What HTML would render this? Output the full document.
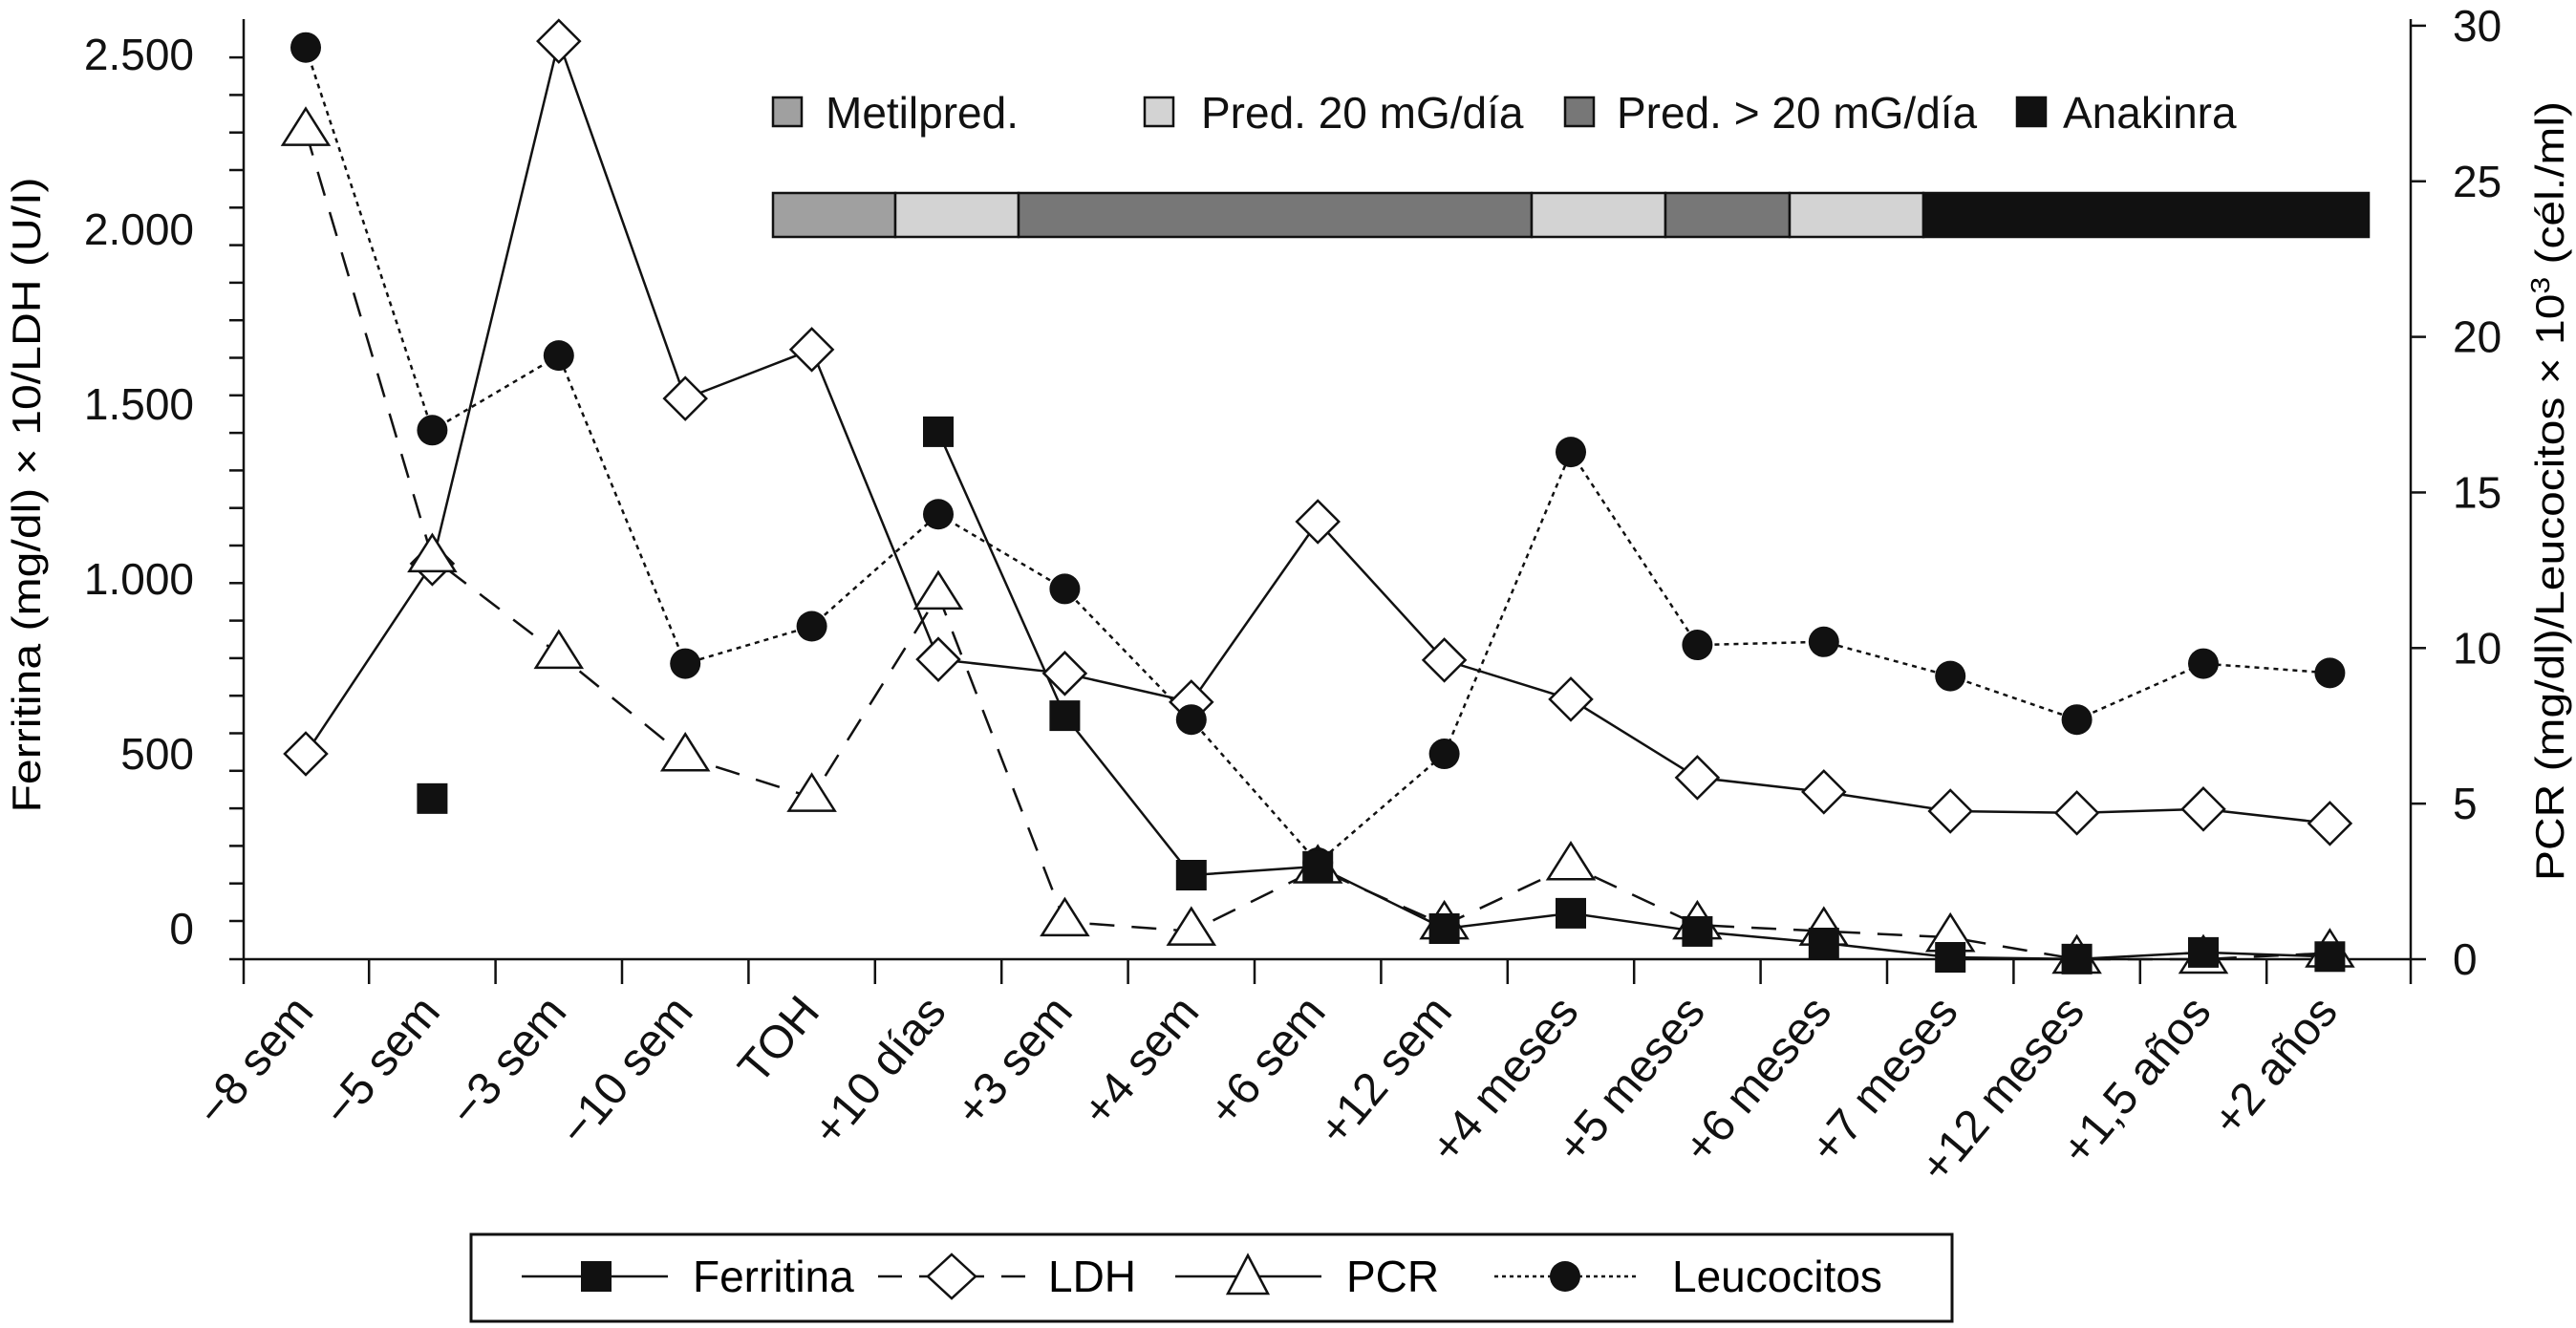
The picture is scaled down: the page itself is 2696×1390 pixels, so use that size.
<!DOCTYPE html>
<html><head><meta charset="utf-8"><style>
html,body{margin:0;padding:0;background:#fff;}
svg{display:block;font-family:"Liberation Sans",Arial,sans-serif;}
</style></head><body>
<svg id="chart" width="2696" height="1390" viewBox="0 0 2696 1390" xmlns="http://www.w3.org/2000/svg">
<g font-size="46" fill="#111">
  <rect x="809" y="102" width="30" height="30" fill="#a0a0a0" stroke="#111" stroke-width="2.5"/>
  <text x="864" y="134">Metilpred.</text>
  <rect x="1198" y="102" width="30" height="30" fill="#d3d3d3" stroke="#111" stroke-width="2.5"/>
  <text x="1257" y="134">Pred. 20 mG/día</text>
  <rect x="1638" y="102" width="30" height="30" fill="#777" stroke="#111" stroke-width="2.5"/>
  <text x="1692" y="134">Pred. &gt; 20 mG/día</text>
  <rect x="2111" y="102" width="30" height="30" fill="#111" stroke="#111" stroke-width="2.5"/>
  <text x="2159" y="134">Anakinra</text>
</g>
<g stroke="#111" stroke-width="2.5">
  <rect x="809" y="202" width="128" height="46" fill="#a0a0a0"/>
  <rect x="937" y="202" width="129" height="46" fill="#d3d3d3"/>
  <rect x="1066" y="202" width="537" height="46" fill="#777"/>
  <rect x="1603" y="202" width="140" height="46" fill="#d3d3d3"/>
  <rect x="1743" y="202" width="130" height="46" fill="#777"/>
  <rect x="1873" y="202" width="140" height="46" fill="#d3d3d3"/>
  <rect x="2013" y="202" width="466" height="46" fill="#111"/>
</g>
<g id="axes"></g>
<g id="series"></g>
<text font-size="42" text-anchor="middle" transform="translate(42,518) rotate(-90)" textLength="665" lengthAdjust="spacingAndGlyphs">Ferritina (mg/dl) × 10/LDH (U/I)</text>
<text font-size="42" text-anchor="middle" transform="translate(2683,514) rotate(-90)" textLength="816" lengthAdjust="spacingAndGlyphs">PCR (mg/dl)/Leucocitos × 10<tspan baseline-shift="super" font-size="28">3</tspan> (cél./ml)</text>
<g>
  <rect x="493" y="1292" width="1550" height="91" fill="#fff" stroke="#111" stroke-width="3"/>
  <line x1="546" y1="1336" x2="699" y2="1336" stroke="#111" stroke-width="2.5"/>
  <rect x="608" y="1320" width="32" height="32" fill="#111"/>
  <text x="725" y="1352" font-size="46">Ferritina</text>
  <line x1="919" y1="1336" x2="1077" y2="1336" stroke="#111" stroke-width="2.5" stroke-dasharray="25,18"/>
  <polygon points="996,1313 1021,1336 996,1359 971,1336" fill="#fff" stroke="#111" stroke-width="2.5"/>
  <text x="1097" y="1352" font-size="46">LDH</text>
  <line x1="1230" y1="1336" x2="1383" y2="1336" stroke="#111" stroke-width="2.5"/>
  <polygon points="1306,1314 1327,1354 1285,1354" fill="#fff" stroke="#111" stroke-width="2.5"/>
  <text x="1409" y="1352" font-size="46">PCR</text>
  <line x1="1564" y1="1336" x2="1715" y2="1336" stroke="#111" stroke-width="2.5" stroke-dasharray="4,4"/>
  <circle cx="1638" cy="1336" r="16" fill="#111"/>
  <text x="1750" y="1352" font-size="46">Leucocitos</text>
</g>
</svg>
<script>
const categories = ["\u22128 sem","\u22125 sem","\u22123 sem","\u221210 sem","TOH","+10 días","+3 sem","+4 sem","+6 sem","+12 sem","+4 meses","+5 meses","+6 meses","+7 meses","+12 meses","+1,5 años","+2 años"];
const ferritina = [null,372,null,null,null,1421,609,153,178,0,44,-8,-41,-82,-87,-68,-80];
const ldh = [500,1044,2538,1516,1656,770,730,648,1164,768,656,432,391,336,331,342,301];
const pcr = [26.6,12.9,9.8,6.5,5.2,11.7,1.2,0.9,2.9,1.1,3.0,1.1,0.9,0.7,0,0,0.2];
const leucocitos = [29.3,17.0,19.4,9.5,10.7,14.3,11.9,7.7,3.1,6.6,16.3,10.1,10.2,9.1,7.7,9.5,9.2];
const leftTicks = [0,500,1000,1500,2000,2500];
const leftTickLabels = ["0","500","1.000","1.500","2.000","2.500"];
const rightTicks = [0,5,10,15,20,25,30];

const NS="http://www.w3.org/2000/svg";
const X0=255, X1=2523, YB=1004;
function xPos(i){return 320+132.4*i;}
function yLeft(v){return 972-v*0.366;}
function yRight(v){return 1004-v*32.57;}
function mk(parent,tag,attrs,text){const e=document.createElementNS(NS,tag);for(const k in attrs)e.setAttribute(k,attrs[k]);if(text!==undefined)e.textContent=text;parent.appendChild(e);return e;}
const axes=document.getElementById('axes');
const S={stroke:"#111","stroke-width":2.5};
let e;
e=mk(axes,'line',Object.assign({x1:X0,y1:20,x2:X0,y2:YB},S));


e=mk(axes,'line',Object.assign({x1:X1,y1:20,x2:X1,y2:YB},S));


e=mk(axes,'line',Object.assign({x1:X0-15,y1:YB,x2:X1,y2:YB},S));


for(let y=964;y>=55;y-=39.3){mk(axes,'line',Object.assign({x1:X0-15,y1:y,x2:X0,y2:y},S));}
leftTicks.forEach((v,i)=>{
  const t=mk(axes,'text',{x:203,y:yLeft(v)+16,'font-size':46,'text-anchor':'end',fill:'#111'},leftTickLabels[i]);
  
  
});
rightTicks.forEach(v=>{
  mk(axes,'line',Object.assign({x1:X1,y1:yRight(v),x2:X1+16,y2:yRight(v)},S));
  const t=mk(axes,'text',{x:2567,y:yRight(v)+16,'font-size':46,fill:'#111'},String(v));
  
  
});
const xt=[X0];for(let i=0;i<categories.length-1;i++)xt.push((xPos(i)+xPos(i+1))/2);xt.push(X1);
xt.forEach(x=>mk(axes,'line',Object.assign({x1:x,y1:YB,x2:x,y2:YB+26},S)));
categories.forEach((c,i)=>{
  const x=xPos(i)+10,y=1060;
  const t=mk(axes,'text',{x:x,y:y,'font-size':48,'text-anchor':'end',fill:'#111',transform:`rotate(-50 ${x} ${y})`},c);
  
  
});
const ser=document.getElementById('series');
function drawLine(vals,yf,dash,name){
  let d='';let pen=false;
  vals.forEach((v,i)=>{if(v===null){pen=false;return;}d+=(pen?'L':'M')+xPos(i)+' '+yf(v)+' ';pen=true;});
  const p=mk(ser,'path',{d:d,fill:'none',stroke:'#111','stroke-width':2.5,'stroke-dasharray':dash||'none'});
  
  
}
drawLine(ldh,yLeft,null,'ldh-line');
drawLine(pcr,yRight,'26,18','pcr-line');
drawLine(leucocitos,yRight,'5,5','leucocitos-line');
drawLine(ferritina,yLeft,null,'ferritina-line');
ldh.forEach((v,i)=>{const x=xPos(i),y=yLeft(v);
  const m=mk(ser,'polygon',{points:`${x},${y-22} ${x+22},${y} ${x},${y+22} ${x-22},${y}`,fill:'#fff',stroke:'#111','stroke-width':2.5});
  
  
});
pcr.forEach((v,i)=>{const x=xPos(i),y=yRight(v);
  const m=mk(ser,'polygon',{points:`${x},${y-24} ${x+24},${y+14} ${x-24},${y+14}`,fill:'#fff',stroke:'#111','stroke-width':2.5});
  
  
});
leucocitos.forEach((v,i)=>{
  const m=mk(ser,'circle',{cx:xPos(i),cy:yRight(v),r:16,fill:'#111'});
  
  
});
ferritina.forEach((v,i)=>{if(v===null)return;
  const m=mk(ser,'rect',{x:xPos(i)-16,y:yLeft(v)-16,width:32,height:32,fill:'#111'});
  
  
});
</script>
</body></html>
